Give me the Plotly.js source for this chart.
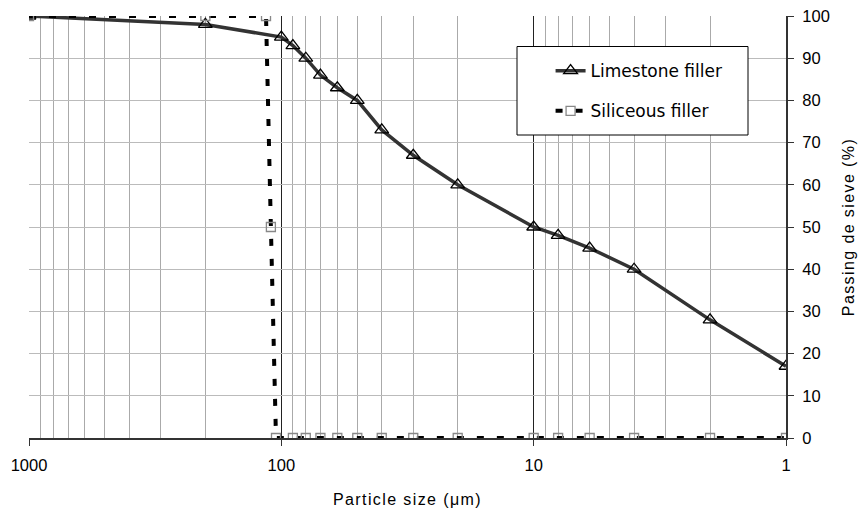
<!DOCTYPE html>
<html><head><meta charset="utf-8">
<script src="https://cdn.plot.ly/plotly-3.0.1.min.js"></script>
<style>
body{margin:0;padding:0;background:#fff}#chart{width:861px;height:514px}
#chart text.xtitle, #chart text.ytitle{letter-spacing:1.4px}
</style>
</head><body><div id="chart"></div>
<script>
const limeSize = [1000, 200, 100, 90, 80, 70, 60, 50, 40, 30, 20, 10, 8, 6, 4, 2, 1];
const limePass = [100, 98, 95, 93, 90, 86, 83, 80, 73, 67, 60, 50, 48, 45, 40, 28, 17];
const siliSize = [1000, 200, 115, 110, 105, 90, 80, 70, 60, 50, 40, 30, 20, 10, 8, 6, 4, 2, 1];
const siliPass = [100, 100, 100, 50, 0, 0, 0, 0, 0, 0, 0, 0, 0, 0, 0, 0, 0, 0, 0];
const xTickVals = [1000, 100, 10, 1];
const xTickText = ['1000', '100', '10', '1'];

const fam = 'Liberation Sans, Arial, sans-serif';
const font = {family: fam, size: 16, color: '#000'};
const tickFont = {family: fam, size: 16.5, color: '#000'};
const legendFont = {family: 'DejaVu Sans, Liberation Sans, sans-serif', size: 17, color: '#000'};

const traces = [
  {x: limeSize, y: limePass, name: 'Limestone filler', mode: 'lines+markers', legendgroup: 'a',
   line: {color: '#333333', width: 3.5},
   marker: {symbol: 'triangle-up-open', size: 12, color: '#000', line: {width: 1.3, color: '#000'}}},
  {x: siliSize, y: siliPass, name: 'Siliceous filler', mode: 'lines+markers', legendgroup: 'b',
   line: {color: '#000', width: 4, dash: '7px,13px'},
   marker: {symbol: 'square-open', size: 9, color: '#888', line: {width: 1.3, color: '#888'}}}
];

const layout = {
  width: 861, height: 514,
  margin: {l: 29, r: 75, t: 16, b: 76},
  paper_bgcolor: '#fff', plot_bgcolor: '#fff',
  font: font,
  showlegend: true,
  legend: {x: 0.689, y: 0.912, xanchor: 'left', yanchor: 'top',
    bgcolor: 'rgba(0,0,0,0)', borderwidth: 0,
    font: legendFont, tracegroupgap: 15},
  shapes: [{type: 'rect', xref: 'paper', yref: 'paper',
    x0: (517 - 29) / 757, x1: (748 - 29) / 757, y0: (438 - 135) / 422, y1: (438 - 46.5) / 422,
    line: {color: '#000', width: 1}, fillcolor: '#fff', layer: 'above'}],
  xaxis: {type: 'log', range: [3, 0], tickvals: xTickVals, ticktext: xTickText,
    showgrid: true, gridcolor: '#222', gridwidth: 1,
    minor: {dtick: 'D1', showgrid: true, gridcolor: '#aaaaaa', gridwidth: 1, ticks: ''},
    showline: true, linecolor: '#333', linewidth: 2, ticks: 'outside', ticklen: 6, tickcolor: '#333',
    ticklabelstandoff: 5,
    tickfont: tickFont, zeroline: false,
    title: {text: 'Particle size (\u03bcm)', font: font, standoff: 21}},
  yaxis: {side: 'right', range: [0, 100], dtick: 10, showgrid: true, gridcolor: '#bbbbbb', gridwidth: 1,
    showline: true, linecolor: '#333', linewidth: 2, ticks: 'outside', ticklen: 6, tickcolor: '#333',
    ticklabelstandoff: 5,
    tickfont: tickFont, zeroline: false,
    title: {text: 'Passing de sieve (%)', font: font, standoff: 14}}
};

Plotly.newPlot('chart', traces, layout, {displayModeBar: false, staticPlot: true});
</script></body></html>
